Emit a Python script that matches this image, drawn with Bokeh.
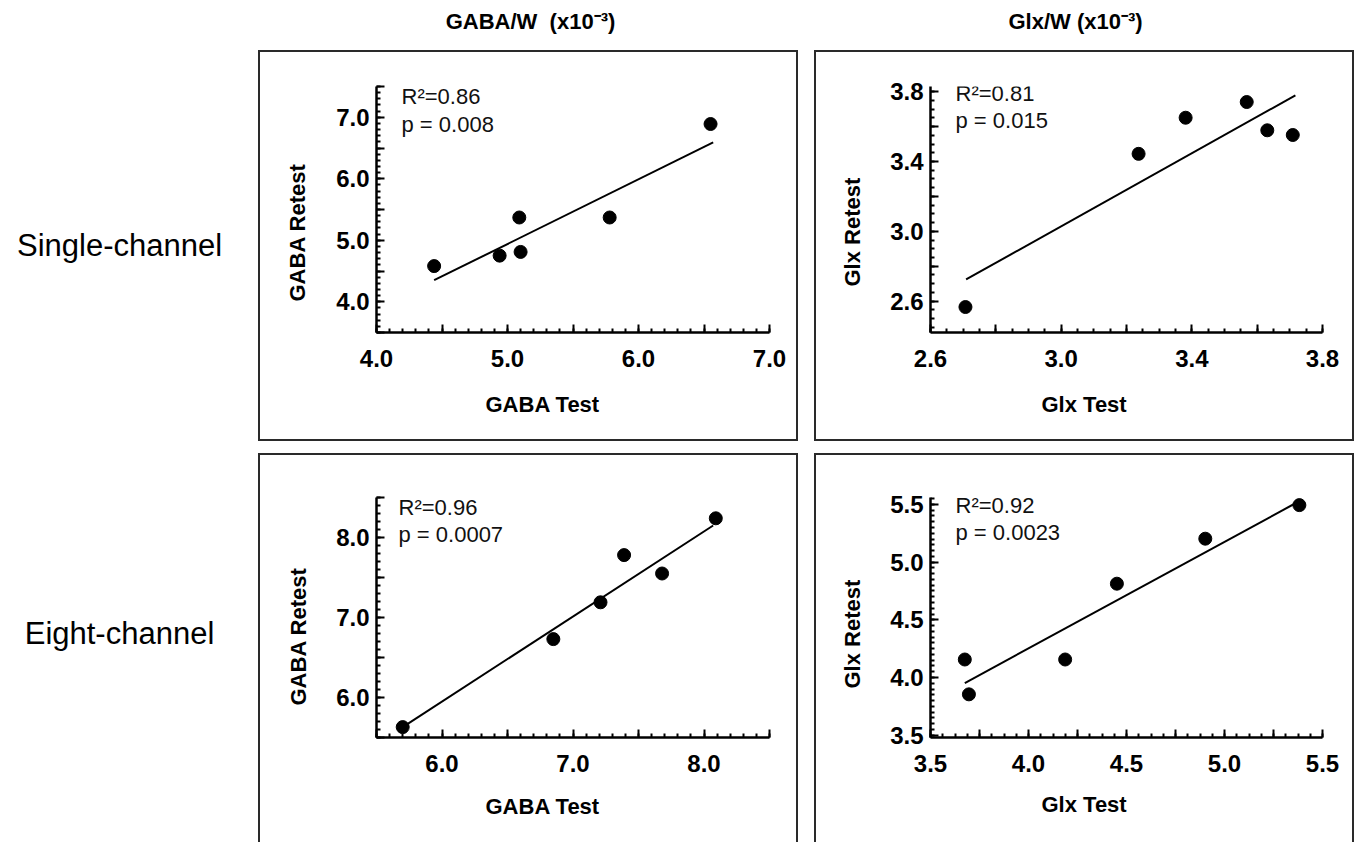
import math
from bokeh.plotting import figure
from bokeh.models import Range1d, FixedTicker, Label, Spacer, CustomJSTickFormatter, Title
from bokeh.layouts import row, column
from bokeh.embed import file_html
from bokeh.resources import INLINE

FONT = "Liberation Sans"

# ---------------- data ----------------
col_titles = ["GABA/W\u00a0 (x10\u207b\u00b3)", "Glx/W (x10\u207b\u00b3)"]
row_titles = ["Single-channel", "Eight-channel"]

# Single-channel GABA
gaba1_test = [4.44, 4.94, 5.09, 5.10, 5.78, 6.55]
gaba1_retest = [4.58, 4.75, 5.37, 4.81, 5.37, 6.89]
gaba1_fit_x = [4.44, 6.57]
gaba1_fit_y = [4.35, 6.59]
gaba1_stats = ["R\u00b2=0.86", "p = 0.008"]

# Single-channel Glx
glx1_test = [2.707, 3.237, 3.381, 3.568, 3.631, 3.709]
glx1_retest = [2.566, 3.444, 3.651, 3.741, 3.579, 3.552]
glx1_fit_x = [2.709, 3.717]
glx1_fit_y = [2.724, 3.779]
glx1_stats = ["R\u00b2=0.81", "p = 0.015"]

# Eight-channel GABA
gaba8_test = [5.70, 6.85, 7.21, 7.39, 7.68, 8.09]
gaba8_retest = [5.63, 6.73, 7.19, 7.78, 7.55, 8.24]
gaba8_fit_x = [5.70, 8.07]
gaba8_fit_y = [5.63, 8.15]
gaba8_stats = ["R\u00b2=0.96", "p = 0.0007"]

# Eight-channel Glx
glx8_test = [3.675, 3.696, 4.187, 4.451, 4.902, 5.382]
glx8_retest = [4.156, 3.854, 4.156, 4.813, 5.203, 5.494]
glx8_fit_x = [3.675, 5.36]
glx8_fit_y = [3.952, 5.508]
glx8_stats = ["R\u00b2=0.92", "p = 0.0023"]

# axes: major ticks and labelled ticks
gaba1_xticks = [4.0, 4.5, 5.0, 5.5, 6.0, 6.5, 7.0]
gaba1_xlabels = [4.0, 5.0, 6.0, 7.0]
gaba1_yticks = [3.5, 4.0, 4.5, 5.0, 5.5, 6.0, 6.5, 7.0, 7.5]
gaba1_ylabels = [4.0, 5.0, 6.0, 7.0]

glx1_xticks = [2.6, 2.8, 3.0, 3.2, 3.4, 3.6, 3.8]
glx1_xlabels = [2.6, 3.0, 3.4, 3.8]
glx1_yticks = [2.6, 2.8, 3.0, 3.2, 3.4, 3.6, 3.8]
glx1_ylabels = [2.6, 3.0, 3.4, 3.8]

gaba8_xticks = [5.5, 6.0, 6.5, 7.0, 7.5, 8.0, 8.5]
gaba8_xlabels = [6.0, 7.0, 8.0]
gaba8_yticks = [5.5, 6.0, 6.5, 7.0, 7.5, 8.0, 8.5]
gaba8_ylabels = [6.0, 7.0, 8.0]

glx8_xticks = [3.5, 3.75, 4.0, 4.25, 4.5, 4.75, 5.0, 5.25, 5.5]
glx8_xlabels = [3.5, 4.0, 4.5, 5.0, 5.5]
glx8_yticks = [3.5, 4.0, 4.5, 5.0, 5.5]
glx8_ylabels = [3.5, 4.0, 4.5, 5.0, 5.5]


def minor_ticks(start, end, step):
    out = []
    n0 = math.ceil(start / step - 1e-9)
    n1 = math.floor(end / step + 1e-9)
    for i in range(n0, n1 + 1):
        out.append(round(i * step, 6))
    return out


def fmt(labels):
    return CustomJSTickFormatter(
        args=dict(labels=labels),
        code="for (const v of labels) { if (Math.abs(v - tick) < 1e-6) return v.toFixed(1); } return '';",
    )


def style_axis(ax, standoff):
    ax.axis_line_width = 2.5
    ax.axis_line_color = "black"
    ax.major_tick_line_width = 2
    ax.major_tick_line_color = "black"
    ax.minor_tick_line_width = 2
    ax.minor_tick_line_color = "black"
    ax.major_tick_in = 8
    ax.major_tick_out = 0
    ax.minor_tick_in = 4
    ax.minor_tick_out = 0
    ax.major_label_text_font = FONT
    ax.major_label_text_font_style = "bold"
    ax.major_label_text_font_size = "24px"
    ax.major_label_text_color = "black"
    ax.major_label_standoff = standoff


def make_panel(test, retest, fit_x, fit_y, stats, xr, yr,
               xticks, xlabels, xminor, yticks, ylabels, yminor,
               xtitle, ytitle, h, borders, xt_off, yt_off, ann_off, shadow):
    left, right, top, bottom = borders
    p = figure(width=540, height=h, x_range=Range1d(*xr), y_range=Range1d(*yr),
               output_backend="svg", toolbar_location=None,
               min_border_left=left, min_border_right=right,
               min_border_top=top, min_border_bottom=bottom)
    p.grid.visible = False
    p.outline_line_color = None
    p.background_fill_color = "white"
    p.border_fill_color = None
    p.styles = {"box-shadow": shadow}

    p.xaxis.ticker = FixedTicker(ticks=xticks, minor_ticks=minor_ticks(xr[0], xr[1], xminor))
    p.yaxis.ticker = FixedTicker(ticks=yticks, minor_ticks=minor_ticks(yr[0], yr[1], yminor))
    p.xaxis.formatter = fmt(xlabels)
    p.yaxis.formatter = fmt(ylabels)
    style_axis(p.xaxis[0], 17)
    style_axis(p.yaxis[0], 7)

    p.line(fit_x, fit_y, line_width=2, line_color="black")
    p.scatter(test, retest, marker="circle", size=13, fill_color="black", line_color="black")

    p.add_layout(Title(text=xtitle, align="left", offset=xt_off[0], standoff=xt_off[1],
                       text_font=FONT, text_font_style="bold", text_font_size="22px",
                       text_color="black"), "below")
    p.add_layout(Title(text=ytitle, align="left", offset=yt_off[0], standoff=yt_off[1],
                       text_font=FONT, text_font_style="bold", text_font_size="22px",
                       text_color="black"), "left")
    for i, s in enumerate(stats):
        p.add_layout(Label(x=xr[0], y=yr[1], x_offset=ann_off[0], y_offset=-ann_off[1 + i],
                           text=s, text_align="left", text_baseline="alphabetic",
                           text_font=FONT, text_font_size="22px", text_color="#111111"))
    return p


def text_fig(w, h, txt, x, y, size, bold, align):
    f = figure(width=w, height=h, x_range=Range1d(0, w), y_range=Range1d(0, h),
               output_backend="svg", toolbar_location=None,
               x_axis_type=None, y_axis_type=None, min_border=0)
    f.grid.visible = False
    f.outline_line_color = None
    f.border_fill_color = None
    f.background_fill_color = None
    f.add_layout(Label(x=x, y=y, text=txt, text_align=align, text_baseline="middle",
                       text_font=FONT, text_font_size=size,
                       text_font_style="bold" if bold else "normal", text_color="black"))
    return f


TOP_BOX = "inset 0 0 0 2px #2a2a2a"
BOTTOM_BOX = "inset 2px 0 0 0 #2a2a2a, inset -2px 0 0 0 #2a2a2a, inset 0 2px 0 0 #2a2a2a"

p1 = make_panel(gaba1_test, gaba1_retest, gaba1_fit_x, gaba1_fit_y, gaba1_stats,
                (4.0, 7.0), (3.5, 7.5), gaba1_xticks, gaba1_xlabels, 0.1,
                gaba1_yticks, gaba1_ylabels, 0.1, "GABA Test", "GABA Retest",
                391, (118, 29, 36, 109), (109, 40), (31, 47), (25, 10, 38), TOP_BOX)
p2 = make_panel(glx1_test, glx1_retest, glx1_fit_x, glx1_fit_y, glx1_stats,
                (2.6, 3.8), (2.42, 3.83), glx1_xticks, glx1_xlabels, 0.05,
                glx1_yticks, glx1_ylabels, 0.05, "Glx Test", "Glx Retest",
                391, (115, 32, 35, 109), (111, 40), (46, 46), (25, 7, 34), TOP_BOX)
p3 = make_panel(gaba8_test, gaba8_retest, gaba8_fit_x, gaba8_fit_y, gaba8_stats,
                (5.5, 8.5), (5.5, 8.5), gaba8_xticks, gaba8_xlabels, 0.1,
                gaba8_yticks, gaba8_ylabels, 0.1, "GABA Test", "GABA Retest",
                389, (118, 29, 42, 105), (109, 35), (32, 46), (22, 10, 37), BOTTOM_BOX)
p4 = make_panel(glx8_test, glx8_retest, glx8_fit_x, glx8_fit_y, glx8_stats,
                (3.5, 5.5), (3.48, 5.56), glx8_xticks, glx8_xlabels, 0.0625,
                glx8_yticks, glx8_ylabels, 0.05, "Glx Test", "Glx Retest",
                389, (115, 32, 44, 100), (111, 31), (49, 46), (25, 8, 35), BOTTOM_BOX)

t1 = text_fig(540, 50, col_titles[0], 272, 29, "22px", True, "center")
t2 = text_fig(540, 50, col_titles[1], 261, 29, "22px", True, "center")
r1 = text_fig(258, 391, row_titles[0], 119, 138, "31px", False, "center")
r2 = text_fig(258, 389, row_titles[1], 119, 169, "31px", False, "center")

layout = column(
    row(Spacer(width=258, height=50), t1, Spacer(width=16, height=50), t2),
    row(r1, p1, Spacer(width=16, height=391), p2),
    Spacer(width=1354, height=12),
    row(r2, p3, Spacer(width=16, height=389), p4),
)

open("out.html", "w").write(file_html(layout, INLINE))
